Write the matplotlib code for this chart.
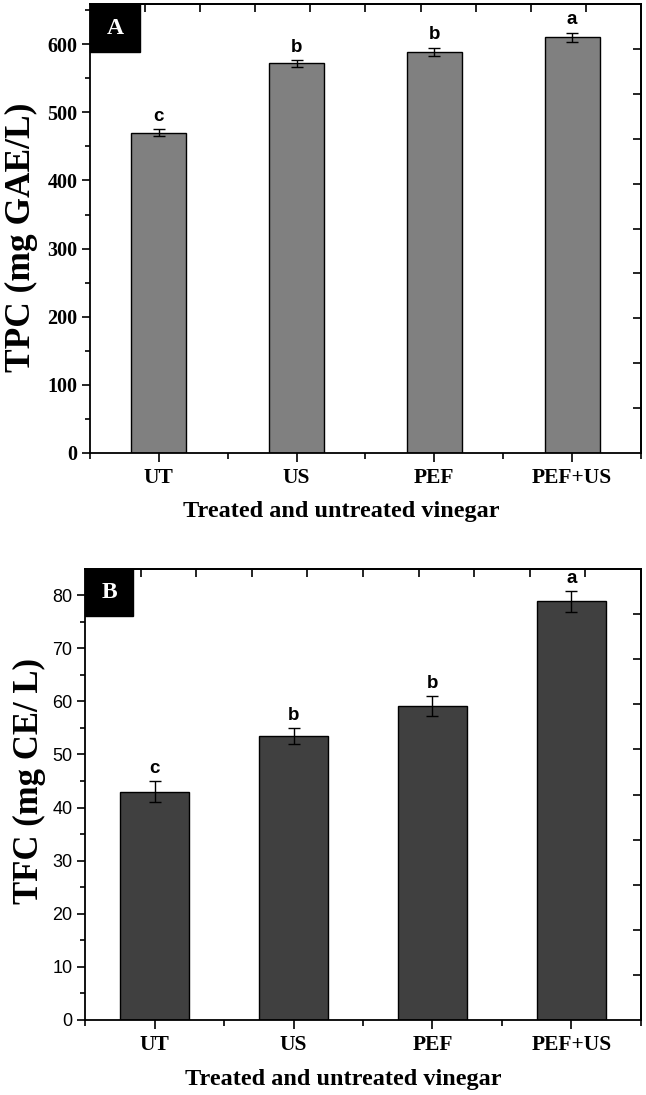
import matplotlib
matplotlib.use("Agg")
import matplotlib.pyplot as plt
from matplotlib.ticker import FixedLocator, NullFormatter
from matplotlib.patches import Rectangle

categories = ["UT", "US", "PEF", "PEF+US"]
tpc_values = [470, 572, 589, 610]
tpc_errors = [5, 5, 6, 7]
tpc_letters = ["c", "b", "b", "a"]
tfc_values = [43.0, 53.4, 59.1, 78.8]
tfc_errors = [2.0, 1.5, 1.9, 2.0]
tfc_letters = ["c", "b", "b", "a"]
tpc_yticks = [0, 100, 200, 300, 400, 500, 600]
tfc_yticks = [0, 10, 20, 30, 40, 50, 60, 70, 80]

W, H = 646, 1095
fig = plt.figure(figsize=(W / 100, H / 100), dpi=100)

SERIF = "Liberation Serif"
SANS = "Liberation Sans"


def px_axes(l, t, r, b):
    return fig.add_axes([l / W, 1 - b / H, (r - l) / W, (b - t) / H])


def setup(ax, values, errors, letters, color, width, ymax, yticks, yminor,
          ytick_font, ytick_weight, ytick_size, panel, box_w, box_h):
    x = list(range(len(categories)))
    ax.bar(x, values, width=width, color=color, edgecolor="black",
           linewidth=1.0, zorder=2)
    ax.errorbar(x, values, yerr=errors, fmt="none", ecolor="black",
                elinewidth=1.0, capsize=4, capthick=1.0, zorder=3)
    for xi, v, e, lab in zip(x, values, errors, letters):
        ax.annotate(lab, (xi, v + e), xytext=(0, 3), textcoords="offset points",
                    ha="center", va="bottom", fontsize=13.5, fontweight="bold",
                    family=SANS)
    ax.set_xlim(-0.5, 3.5)
    ax.set_ylim(0, ymax)
    for s in ax.spines.values():
        s.set_linewidth(1.3)
    ax.set_xticks(x)
    ax.set_xticklabels(categories, family=SERIF, fontweight="bold", fontsize=15.5)
    ax.xaxis.set_minor_locator(FixedLocator([-0.5, 0.5, 1.5, 2.5, 3.5]))
    ax.set_yticks(yticks)
    ax.set_yticklabels([str(t) for t in yticks], family=ytick_font,
                       fontweight=ytick_weight, fontsize=ytick_size)
    ax.yaxis.set_minor_locator(FixedLocator(yminor))
    ax.tick_params(axis="x", which="major", direction="out", length=6.5,
                   width=1.2, pad=4, top=False)
    ax.tick_params(axis="x", which="minor", direction="out", length=4.5,
                   width=1.2, top=False)
    ax.tick_params(axis="y", which="major", direction="out", length=6,
                   width=1.2, pad=3, right=False)
    ax.tick_params(axis="y", which="minor", direction="out", length=3.5,
                   width=1.2, right=False)

    # top and right axes: ten equal divisions, ticks pointing inward
    sx = ax.secondary_xaxis("top", functions=(lambda v: (v + 0.5) * 2.5,
                                              lambda t: t / 2.5 - 0.5))
    sx.set_xticks(range(1, 10))
    sx.xaxis.set_major_formatter(NullFormatter())
    sx.tick_params(direction="in", length=6, width=1.2)
    sx.xaxis.set_minor_locator(FixedLocator([]))
    sy = ax.secondary_yaxis("right", functions=(lambda v: v * 10.0 / ymax,
                                                lambda t: t * ymax / 10.0))
    sy.set_yticks(range(1, 10))
    sy.yaxis.set_major_formatter(NullFormatter())
    sy.tick_params(direction="in", length=6, width=1.2)
    sy.yaxis.set_minor_locator(FixedLocator([]))
    for s in list(sx.spines.values()) + list(sy.spines.values()):
        s.set_linewidth(1.3)

    # panel letter box
    ax.add_patch(Rectangle((0, 1), box_w, -box_h, transform=ax.transAxes,
                           facecolor="black", edgecolor="black", zorder=5,
                           clip_on=False))
    ax.text(box_w / 2, 1 - box_h / 2, panel, transform=ax.transAxes,
            ha="center", va="center", color="white", fontsize=17,
            fontweight="bold", family=SERIF, zorder=6)


# Panel A
axA = px_axes(90, 4, 641, 453)
setup(axA, tpc_values, tpc_errors, tpc_letters, "#808080", 0.4, 659,
      tpc_yticks, [50, 150, 250, 350, 450, 550, 650], SERIF, "bold", 14.5,
      "A", 50 / 551, 48 / 449)
fig.text(21 / W, 1 - 237 / H, "TPC (mg GAE/L)", rotation=90, ha="center",
         va="center", fontsize=25.5, fontweight="bold", family=SERIF)
fig.text(341 / W, 1 - 511 / H, "Treated and untreated vinegar", ha="center",
         va="center", fontsize=17.5, fontweight="bold", family=SERIF)

# Panel B
axB = px_axes(85, 569, 641, 1020)
setup(axB, tfc_values, tfc_errors, tfc_letters, "#404040", 0.5, 84.9,
      tfc_yticks, [5, 15, 25, 35, 45, 55, 65, 75], SANS, "normal", 13,
      "B", 48 / 556, 47 / 451)
fig.text(29 / W, 1 - 781 / H, "TFC (mg CE/ L)", rotation=90, ha="center",
         va="center", fontsize=25, fontweight="bold", family=SERIF)
fig.text(343 / W, 1 - 1079 / H, "Treated and untreated vinegar", ha="center",
         va="center", fontsize=17.5, fontweight="bold", family=SERIF)

fig.savefig("out.png", dpi=100)
